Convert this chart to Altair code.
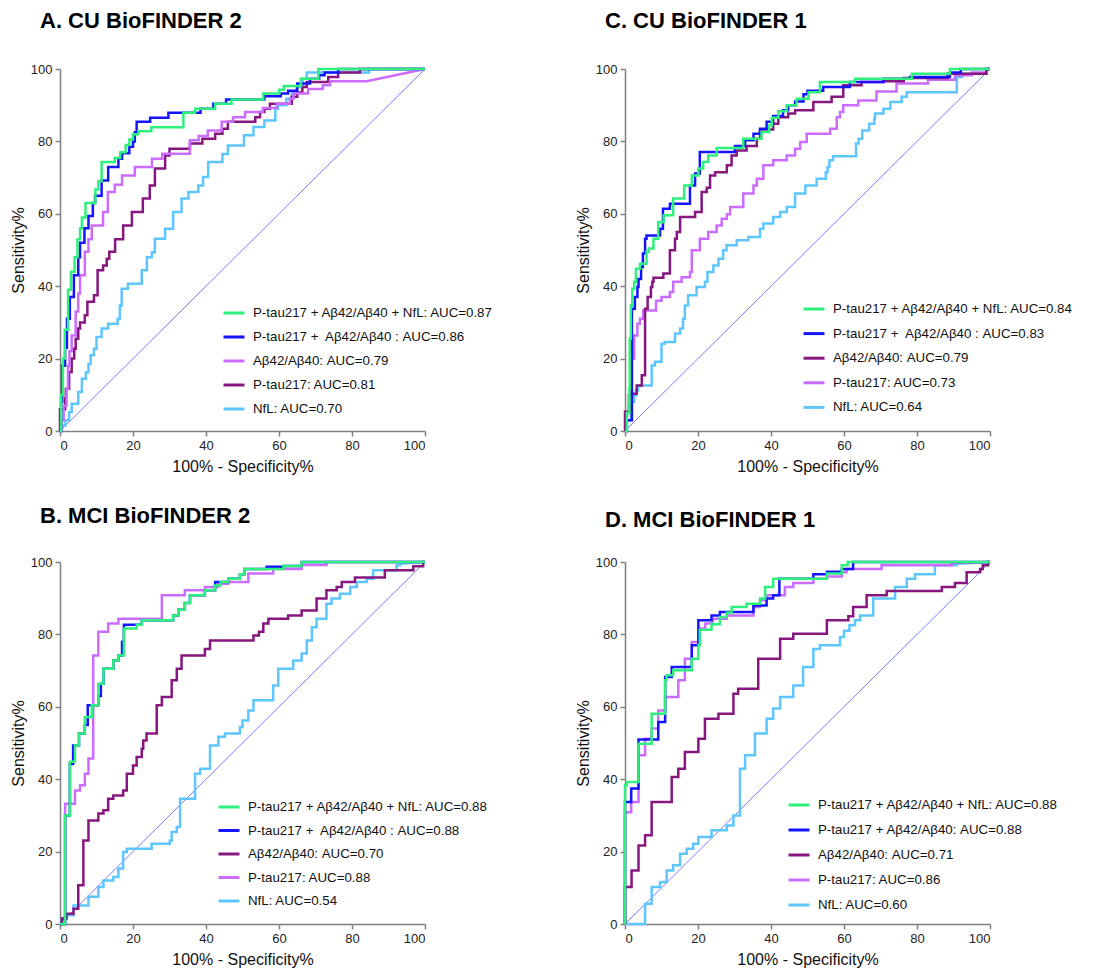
import altair as alt
import pandas as pd

GREEN = "#2ef07c"
BLUE = "#1414ff"
PURPLE = "#86177f"
VIOLET = "#cc6cff"
LBLUE = "#5ec6ff"
DIAG = "#7a7aff"
FONT = "Liberation Sans"

# ---------------- Panel A: CU BioFINDER 2 ----------------
A_title = "A. CU BioFINDER 2"
A_labels = ["P-tau217 + Aβ42/Aβ40 + NfL: AUC=0.87",
            "P-tau217 +\u00a0 Aβ42/Aβ40 : AUC=0.86",
            "Aβ42/Aβ40: AUC=0.79",
            "P-tau217: AUC=0.81",
            "NfL: AUC=0.70"]
A_colors = [GREEN, BLUE, VIOLET, PURPLE, LBLUE]
A_green_x = [0, 0.3, 0.8, 1.3, 2.2, 3, 4, 4.8, 5.5, 6, 7, 9.7, 10.5, 11.4, 15, 16.5, 18, 19, 20, 21.5, 25, 33.8, 37, 42.5, 47, 55.7, 60.1, 61.3, 66, 70.8, 100]
A_green_y = [0, 10, 20, 28, 39, 44, 48, 53, 56, 59, 63, 66.7, 69, 74.3, 75.4, 77, 79, 80.5, 82, 82.8, 83.9, 87.9, 89, 90.4, 91.6, 93.2, 94.3, 95.3, 97.3, 100, 100]
A_blue_x = [0, 0.3, 0.6, 1.4, 1.9, 2.7, 3.8, 5, 5.5, 6.7, 7.8, 9, 9.6, 11.4, 13.2, 16, 17, 19, 20, 20.5, 21, 24.7, 29.7, 38.5, 42, 45.5, 56, 60.5, 62.5, 65, 68.5, 71, 72.5, 76.2, 100]
A_blue_y = [0, 8, 18, 23, 31, 37, 43, 48, 52, 56, 59.4, 63, 65, 69.2, 72.9, 75.2, 76.7, 78.5, 80, 82.5, 85.4, 86.5, 87.9, 89, 90.4, 91.6, 92.5, 93.2, 94, 96, 97.3, 98.3, 99, 100, 100]
A_violet_x = [0, 0.5, 1, 1.8, 2.2, 2.6, 3.2, 4.3, 5, 5.5, 6.8, 7.8, 8.7, 11.8, 13.1, 15, 17, 20.5, 25.2, 28, 35.6, 38, 40.5, 44.3, 47.4, 50.7, 55.6, 59.4, 63, 64, 68, 72, 74, 84, 100]
A_violet_y = [0, 3, 7, 11.7, 18, 22, 26.4, 33, 38, 43, 49.5, 53, 56.8, 60.5, 66, 68, 70.6, 72.9, 75.2, 76.6, 80.3, 81.5, 83, 85.4, 86.7, 88.1, 89.2, 90.4, 91.8, 93.2, 94.5, 95.5, 96.6, 96.6, 100]
A_purple_x = [0, 0, 1.4, 1.6, 2.5, 3.2, 3.9, 4.3, 5, 5.5, 6.8, 7.5, 9.3, 10.3, 11.8, 12.8, 13.5, 15.1, 17.3, 19.7, 22.7, 24.6, 26, 28.8, 30, 35.6, 39, 42.5, 44.5, 46, 53.5, 54.8, 56, 57.5, 63.5, 65, 66.4, 67.6, 73.5, 76.2, 82.2, 100]
A_purple_y = [0, 6, 9, 11.7, 16.3, 20, 22.7, 25.5, 28.3, 30, 32, 35.7, 37.5, 44.4, 45.7, 47.6, 49.5, 53, 56.8, 60.5, 64.2, 67.8, 72.5, 76.1, 78, 79.4, 80.7, 82.1, 83.5, 85.4, 86.7, 88.1, 89, 90.4, 92.3, 93.5, 95, 96.4, 97.8, 99, 100, 100]
A_nfl_x = [0, 0.5, 1.5, 2.5, 3.2, 5, 6, 7.1, 7.8, 8.4, 9.3, 10, 11.4, 13.2, 15.8, 16.4, 16.9, 18.6, 22.4, 23.8, 25.2, 26, 28.8, 31, 33.3, 35.2, 37.9, 39.2, 40.6, 44.5, 46, 50.4, 53, 56, 59, 59.7, 62, 63.5, 64.8, 66.5, 67.6, 84.7, 100]
A_nfl_y = [0, 1.5, 3, 5.2, 7.5, 10.8, 14.4, 16.2, 18.5, 20.9, 22.7, 26, 28.3, 29.6, 31, 34.7, 39.3, 40.7, 44.4, 48, 49.4, 53.1, 55.9, 60.5, 64.2, 66, 67.8, 70.2, 74.3, 76.5, 78.9, 81.7, 84, 85.8, 89, 90, 91.8, 93.5, 95, 97.3, 99, 100, 100]

# ---------------- Panel C: CU BioFINDER 1 ----------------
C_title = "C. CU BioFINDER 1"
C_labels = ["P-tau217 + Aβ42/Aβ40 + NfL: AUC=0.84",
            "P-tau217 +\u00a0 Aβ42/Aβ40 : AUC=0.83",
            "Aβ42/Aβ40: AUC=0.79",
            "P-tau217: AUC=0.73",
            "NfL: AUC=0.64"]
C_colors = [GREEN, BLUE, PURPLE, VIOLET, LBLUE]
C_green_x = [0, 0.5, 1.2, 1.3, 1.6, 2, 2.5, 3, 4.1, 5.9, 6.5, 7.8, 9.1, 10.6, 13.2, 16.2, 18.3, 20.1, 21.4, 22.8, 25.1, 32.4, 37.4, 39.5, 40.2, 42, 44.3, 47, 50.3, 53.4, 63, 78.6, 89, 100]
C_green_y = [0, 5, 11.7, 25.5, 34.7, 39.3, 41.2, 44.8, 46.2, 49.5, 50.4, 53.1, 57.7, 59.6, 64.2, 67.8, 70.6, 72.5, 74.3, 76.1, 78.2, 80.7, 82.6, 84.4, 86.5, 88.3, 90, 91.8, 93.6, 96.4, 97.3, 98.7, 100, 100]
C_blue_x = [0, 0.5, 1.9, 2.7, 3.4, 3.7, 4.4, 4.9, 5.5, 5.9, 9.6, 10.4, 12.3, 17.8, 19.2, 20.5, 30.1, 32.9, 35.2, 37, 38.8, 40.6, 43.3, 44.7, 46.6, 48.9, 50, 54.3, 61.6, 70.8, 78.1, 89, 92, 100]
C_blue_y = [0, 3, 33.8, 37, 39.8, 42, 45.3, 49, 53.1, 54, 55.9, 61.4, 62.8, 67.8, 71.1, 77.1, 78.7, 80.3, 82.1, 83.5, 85.4, 87, 88.6, 90, 91, 93, 94, 95, 96.4, 97.3, 97.8, 99, 100, 100]
C_purple_x = [0, 0, 1.4, 1.8, 3.2, 4.6, 5.5, 6.2, 7.1, 7.5, 7.8, 10.5, 12.3, 13.7, 14.2, 15.1, 19.2, 21, 22.4, 23.3, 24.7, 27.9, 29.2, 30.6, 33.3, 36.1, 37, 40.6, 42, 44.7, 46.6, 51.6, 56.6, 59.8, 64.8, 70.8, 76.4, 88.4, 99, 100]
C_purple_y = [0, 5.3, 6.7, 10.3, 12.6, 15.4, 33.8, 37, 39.8, 41.2, 42.3, 43.5, 49.9, 53.1, 55, 59.1, 60.5, 66, 67.2, 70.6, 71.5, 73.4, 76.1, 77.5, 78.7, 80.7, 83.3, 84.9, 86.7, 87.7, 88.6, 90.9, 92.3, 95.5, 96.4, 96.6, 97.5, 98.7, 100, 100]
C_violet_x = [0, 0.5, 1, 1.6, 2.5, 3.4, 4.1, 5, 8.5, 10, 12.3, 13.2, 15.5, 17.8, 18.3, 20.5, 22.8, 25.1, 26.5, 27.9, 28.8, 32.4, 35.2, 36.1, 37.9, 40.6, 44.3, 46.6, 48, 49.8, 56.2, 58, 58.9, 59.8, 63.9, 68.9, 74.4, 83, 90.4, 95, 99, 100]
C_violet_y = [0, 5, 10, 20, 26.4, 29.6, 31, 33.3, 36, 37, 38.4, 41.2, 42.5, 43.9, 49.9, 53.1, 55, 56.8, 58.6, 59.9, 61.9, 65.6, 67.8, 69.7, 73.4, 74.8, 76.1, 78, 79.8, 82.1, 83.5, 86.7, 88.1, 90, 91.3, 93.8, 96, 97, 98.3, 99, 100, 100]
C_nfl_x = [0, 0.5, 1.6, 2.5, 3, 3.6, 7.3, 8.2, 10, 10.9, 13.7, 15.1, 15.9, 16.4, 17.3, 19.6, 21.9, 22.6, 24.2, 25.6, 26.9, 27.8, 30.6, 33.8, 37, 37.9, 40.6, 42.5, 44.3, 46.6, 49.4, 52.5, 55, 55.5, 56, 57, 63.3, 64, 65, 66.9, 68.3, 68.5, 70.8, 72.7, 75.8, 77.2, 90.9, 92.3, 99, 100]
C_nfl_y = [0, 3, 8, 9.8, 11.2, 12.6, 18.1, 19.1, 24.1, 24.6, 26.9, 28.3, 31, 34.7, 37.5, 39.8, 41.2, 43.9, 45.7, 47.6, 49.9, 51.3, 52.7, 53.6, 55.9, 57.3, 59.1, 60.5, 61.9, 65.6, 67.8, 69.7, 71.5, 72.9, 74.8, 75.9, 79.4, 80.7, 83, 84.9, 86.3, 87.7, 89, 90.9, 92.3, 93.6, 97.8, 98.7, 100, 100]

# ---------------- Panel B: MCI BioFINDER 2 ----------------
B_title = "B. MCI BioFINDER 2"
B_labels = ["P-tau217 + Aβ42/Aβ40 + NfL: AUC=0.88",
            "P-tau217 +\u00a0 Aβ42/Aβ40 : AUC=0.88",
            "Aβ42/Aβ40: AUC=0.70",
            "P-tau217: AUC=0.88",
            "NfL: AUC=0.54"]
B_colors = [GREEN, BLUE, PURPLE, VIOLET, LBLUE]
B_green_x = [0, 1.4, 2.7, 4.1, 5.2, 6.8, 8.7, 10.5, 11.9, 14.6, 16, 17.5, 21, 22.4, 31, 32.4, 34.2, 35.6, 39.7, 42.5, 44, 46.1, 49.3, 50.5, 61.2, 66.2, 100]
B_green_y = [0, 30, 44.8, 49.3, 52.6, 57.2, 60.4, 66.4, 70.5, 72.8, 74.2, 81.6, 82.7, 83.9, 85.2, 86.8, 88.7, 90.8, 92.2, 93.5, 94.5, 95.4, 96.6, 98.1, 98.9, 100, 100]
B_blue_x = [0, 1.4, 2.7, 3.6, 5.2, 6.8, 7.6, 10.5, 11.2, 11.9, 14.6, 16, 17, 17.5, 22.4, 31, 32.4, 34.2, 35.6, 39.7, 42.5, 46.1, 49.3, 50.5, 56.6, 61.2, 66.2, 100]
B_blue_y = [0, 30, 44.2, 49.3, 52.6, 55, 60.4, 63, 66.4, 70.5, 72.8, 74.2, 78, 82.7, 83.9, 85.2, 86.8, 88.7, 90.8, 92.2, 94.5, 95.4, 96.6, 98.1, 98.7, 98.9, 100, 100]
B_purple_x = [0, 0.5, 1.8, 3.7, 5, 6.4, 7.8, 10.5, 11.9, 13.2, 14.6, 17.3, 18.3, 20, 21, 22.4, 22.8, 23.7, 26.5, 27.9, 30.6, 32, 33.3, 39.7, 41.1, 53, 54.5, 55.7, 57.1, 62.5, 66.2, 70.3, 73, 75.8, 77.2, 80.8, 89, 96.8, 99.5, 100]
B_purple_y = [0, 1.5, 2.8, 4.2, 10.7, 23.1, 28.6, 30.5, 31.4, 34.6, 35.5, 36.9, 41.5, 43.8, 46.1, 48.4, 50.7, 52.6, 60.4, 62.7, 67.3, 70.5, 74.2, 76, 78.3, 79.7, 80.7, 83, 84.3, 85.2, 86.6, 89.9, 92.2, 93.1, 94.5, 95.7, 97.7, 98.8, 100, 100]
B_violet_x = [0, 1.4, 4.1, 5.5, 6.8, 7.8, 9.1, 10.5, 13.2, 16, 27.9, 34.2, 39.7, 43.4, 46.1, 51.6, 58.4, 66.2, 73, 100]
B_violet_y = [0, 33.2, 36.9, 38.3, 41.5, 45.7, 74.2, 80.7, 83, 84.3, 90.8, 92.2, 93.1, 94, 94.5, 96.8, 98.1, 99.2, 100, 100]
B_nfl_x = [0, 0.5, 1.8, 3.7, 7.8, 10.5, 11.9, 14.6, 16, 17.3, 18.3, 25.1, 30.1, 30.6, 32, 32.9, 37, 38.4, 41.1, 43.4, 45.2, 49.3, 50, 51.6, 53, 58.4, 59.8, 63.9, 66.2, 67.6, 69, 70.3, 73, 74.4, 76.7, 79.5, 81.3, 84, 85.8, 92.2, 93.2, 100]
B_nfl_y = [0, 1.5, 2.4, 5.1, 7.5, 10.2, 12, 13, 15.3, 19.9, 20.8, 22.2, 23.1, 25.4, 26.8, 34.6, 41.5, 42.9, 49.3, 51.7, 52.6, 54.4, 56.2, 59, 61.8, 65.9, 70.5, 72.8, 74.7, 78.3, 82, 84.3, 88.5, 89.9, 91.2, 93.1, 94.5, 95.4, 97.7, 99.1, 99.5, 100]

# ---------------- Panel D: MCI BioFINDER 1 ----------------
D_title = "D. MCI BioFINDER 1"
D_labels = ["P-tau217 + Aβ42/Aβ40 + NfL: AUC=0.88",
            "P-tau217 + Aβ42/Aβ40: AUC=0.88",
            "Aβ42/Aβ40: AUC=0.71",
            "P-tau217: AUC=0.86",
            "NfL: AUC=0.60"]
D_colors = [GREEN, BLUE, PURPLE, VIOLET, LBLUE]
D_green_x = [0, 0, 0.5, 3.7, 7.3, 11, 11.4, 13.2, 18.3, 20.1, 20.5, 23.7, 26, 27.9, 29.2, 33.3, 37, 38.4, 40.6, 55.3, 59.4, 61, 100]
D_green_y = [0, 38.3, 39.2, 49.8, 58.1, 67.3, 68.7, 70.1, 73.3, 77, 81.3, 82.8, 84.8, 86, 87.6, 88.5, 89.9, 93.1, 95.4, 96.8, 99.1, 100, 100]
D_blue_x = [0, 0, 1.7, 3.7, 9.1, 11, 12.8, 18.3, 20.1, 23.7, 26, 35.2, 38.8, 40.6, 42.3, 51.6, 55.3, 59.4, 62.5, 100]
D_blue_y = [0, 33.7, 37.4, 51, 55.8, 68.2, 71, 77, 83.9, 85.2, 86.2, 88, 89.9, 90.8, 95.4, 96.6, 97.3, 98.1, 100, 100]
D_purple_x = [0, 0, 1.8, 3.7, 5.5, 7.3, 12.8, 14.6, 16.4, 20.1, 21.9, 25.6, 29.7, 31, 36.5, 42.5, 46.1, 55.3, 61.2, 62.5, 66.2, 71.7, 86.8, 90.4, 93.6, 97.3, 98, 99.5, 100]
D_purple_y = [0, 10.2, 14.8, 21.7, 24.5, 33.7, 40.6, 42.9, 47.5, 51.2, 56.7, 58.1, 63.6, 65, 73.3, 78.8, 80.2, 83.9, 85, 87.6, 90.8, 92, 93.1, 94.2, 97.2, 98.1, 99.1, 100, 100]
D_violet_x = [0, 0, 1.7, 3.7, 5.5, 7.3, 9.1, 11, 14.6, 16.4, 18.3, 20.1, 22, 24, 27.9, 35.2, 37, 38.8, 43.8, 46.1, 51.6, 55.3, 59.4, 60.7, 70.3, 89.5, 100]
D_violet_y = [0, 30.9, 33.7, 46.6, 51.2, 54, 59, 62.7, 67.3, 73.3, 77.9, 81.6, 83, 84.3, 85.2, 87.6, 89.4, 90.8, 93.1, 94.2, 95.4, 96, 97.2, 98.1, 99.1, 99.7, 100]
D_nfl_x = [0, 5.5, 7.3, 9.6, 11.4, 13.2, 15.1, 16.9, 18.7, 20.1, 23.7, 27.9, 29.7, 31.5, 32.9, 35.6, 38.8, 40.6, 42.5, 46.1, 48.8, 51.6, 53.4, 58.9, 60, 61.5, 63, 64.4, 68, 74, 77.2, 79.5, 84.9, 90.9, 100]
D_nfl_y = [0, 5.6, 10.2, 11.6, 14.8, 16.2, 19.4, 20.8, 22.2, 24, 25.9, 27.2, 30, 42.9, 46.6, 52.6, 56.7, 59.5, 62.7, 65.9, 71, 76, 77, 79.3, 81, 82.5, 83.9, 85.2, 89.9, 93.1, 95.4, 96.6, 99.1, 99.5, 100]

TICKS = [0, 20, 40, 60, 80, 100]


def expand(xs, ys):
    """Turn ROC step points into polyline vertices (last segment straight)."""
    vx, vy = [xs[0]], [ys[0]]
    n = len(xs)
    for i in range(1, n):
        if i < n - 1:
            vx.append(xs[i]); vy.append(ys[i - 1])
        vx.append(xs[i]); vy.append(ys[i])
    return vx, vy


def panel(title, labels, colors, curves, lx, ly, rowpad, toff):
    rows = []
    for k in reversed(range(len(labels))):
        xs, ys = expand(*curves[k])
        for j, (x, y) in enumerate(zip(xs, ys)):
            rows.append({"series": labels[k], "x": x, "y": y, "ord": j})
    df = pd.DataFrame(rows)
    diag = pd.DataFrame({"x": [0, 100], "y": [0, 100]})

    xax = alt.Axis(values=TICKS, title="100% - Specificity%", grid=False)
    yax = alt.Axis(values=TICKS, title="Sensitivity%", grid=False)
    xs = alt.Scale(domain=[0, 100], nice=False, zero=False)
    ys = alt.Scale(domain=[0, 100], nice=False, zero=False)

    base_diag = alt.Chart(diag).mark_line(color=DIAG, strokeWidth=1).encode(
        x=alt.X("x:Q", scale=xs, axis=xax),
        y=alt.Y("y:Q", scale=ys, axis=yax),
    )
    lines = alt.Chart(df).mark_line(strokeWidth=2.5, strokeJoin="miter").encode(
        x=alt.X("x:Q", scale=xs, axis=xax),
        y=alt.Y("y:Q", scale=ys, axis=yax),
        color=alt.Color(
            "series:N",
            scale=alt.Scale(domain=labels, range=colors),
            legend=alt.Legend(
                title=None, orient="none", legendX=lx, legendY=ly,
                symbolType="stroke", symbolStrokeWidth=3, symbolSize=440,
                labelFontSize=13.3, labelFont=FONT, labelColor="#111",
                rowPadding=rowpad, padding=0, labelOffset=7, labelLimit=400,
            ),
        ),
        order=alt.Order("ord:Q"),
    )
    return alt.layer(base_diag, lines).properties(
        width=365, height=362,
        title=alt.TitleParams(title, anchor="start", frame="group", dx=-20,
                              fontSize=22, fontWeight="bold", font=FONT,
                              color="black", offset=toff),
    )


A = panel(A_title, A_labels, A_colors,
          [(A_green_x, A_green_y), (A_blue_x, A_blue_y), (A_violet_x, A_violet_y),
           (A_purple_x, A_purple_y), (A_nfl_x, A_nfl_y)], 162, 232, 5, 30)
C = panel(C_title, C_labels, C_colors,
          [(C_green_x, C_green_y), (C_blue_x, C_blue_y), (C_purple_x, C_purple_y),
           (C_violet_x, C_violet_y), (C_nfl_x, C_nfl_y)], 177, 228, 5.6, 30)
B = panel(B_title, B_labels, B_colors,
          [(B_green_x, B_green_y), (B_blue_x, B_blue_y), (B_purple_x, B_purple_y),
           (B_violet_x, B_violet_y), (B_nfl_x, B_nfl_y)], 157, 233, 4.5, 28)
D = panel(D_title, D_labels, D_colors,
          [(D_green_x, D_green_y), (D_blue_x, D_blue_y), (D_purple_x, D_purple_y),
           (D_violet_x, D_violet_y), (D_nfl_x, D_nfl_y)], 162, 231, 6, 24)

chart = alt.concat(
    A, C, B, D, columns=2, bounds="flush",
    spacing=alt.RowColnumber(row=131, column=200),
).resolve_scale(color="independent").configure_view(stroke=None).configure_axis(
    domainColor="#808080", domainWidth=1.5, tickColor="#808080", tickWidth=1.5,
    tickSize=5, labelFontSize=13, labelFont=FONT, labelColor="#222",
    labelPadding=3, titleFont=FONT, titleFontSize=16, titleFontWeight="normal",
    titleColor="#111",
).configure_axisX(titlePadding=6).configure_axisY(titlePadding=4).properties(
    padding={"left": 10, "top": 10, "right": 10, "bottom": 10},
    background="white",
)

chart.save("out.html", embed_options={"renderer": "svg", "actions": False})
